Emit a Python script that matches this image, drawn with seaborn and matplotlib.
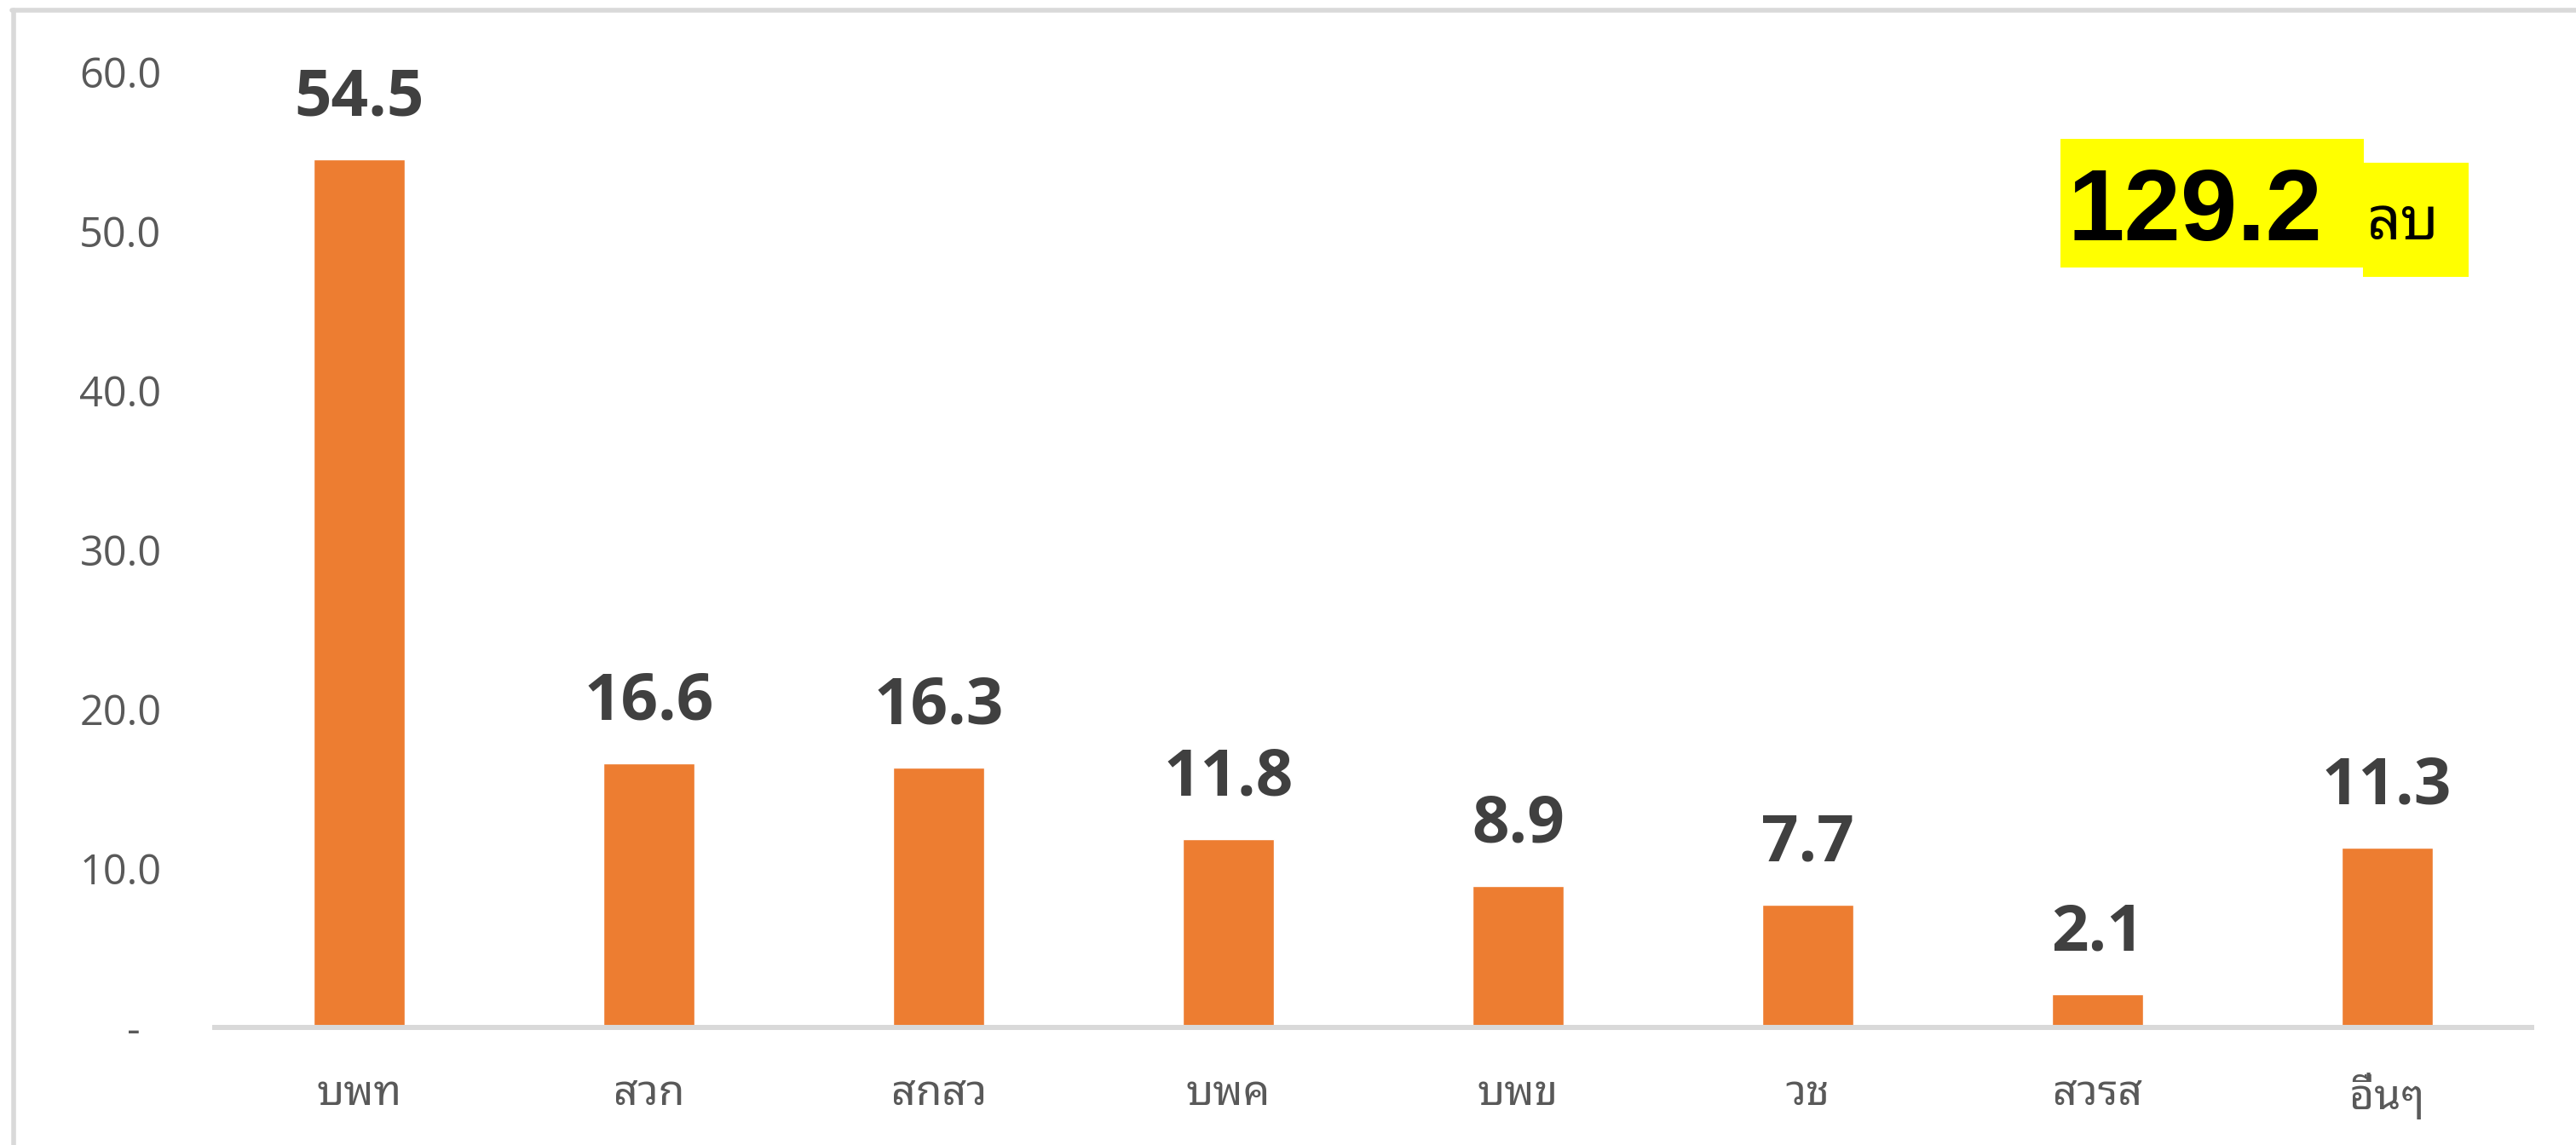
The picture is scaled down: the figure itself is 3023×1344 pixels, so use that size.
import numpy as np
import pandas as pd
import seaborn as sns
import matplotlib
matplotlib.use("Agg")
from matplotlib import pyplot as plt
from matplotlib import font_manager
from matplotlib.ft2font import FT2Font
from matplotlib.lines import Line2D
from matplotlib.patches import Rectangle

# data
categories = ["บพท", "สวก", "สกสว", "บพค", "บพข", "วช", "สวรส", "อื่นๆ"]
values = [54.5, 16.6, 16.3, 11.8, 8.9, 7.7, 2.1, 11.3]
ytick_values = [0, 10, 20, 30, 40, 50, 60]
ytick_labels = ["-  ", "10.0", "20.0", "30.0", "40.0", "50.0", "60.0"]
total_text = "129.2"
unit_text = "ลบ"


def find_thai_family():
    # pick an installed family that has Thai glyphs
    found = []
    for f in font_manager.fontManager.ttflist:
        try:
            if 0x0E1A in FT2Font(f.fname).get_charmap():
                found.append(f.name)
        except Exception:
            pass
    prefs = ["Tahoma", "Leelawadee", "Noto Sans Thai", "Loma", "Garuda",
             "Sarabun", "Tlwg Typo", "Norasi"]
    for p in prefs:
        for n in found:
            if p in n:
                return n
    return found[0] if found else "DejaVu Sans"


sns.set_theme(style="white")
thai = find_thai_family()
plt.rcParams['font.family'] = ['Open Sans', thai, 'DejaVu Sans']

W, H = 3023, 1344
fig = plt.figure(figsize=(W / 100, H / 100), dpi=100)
ax = fig.add_axes([252 / W, 1 - 1206 / H, (2971 - 252) / W, (1206 - 84) / H])

df = pd.DataFrame({"agency": categories, "budget": values})
sns.barplot(data=df, x="agency", y="budget", color="#ED7D31", saturation=1,
            width=0.315, ax=ax)

ax.set_ylim(0, 60)
ax.set_xlim(-0.5, len(categories) - 0.5)
ax.set_yticks(ytick_values)
ax.set_yticklabels(ytick_labels, fontsize=35, color="#595959",
                   family=['Open Sans', 'DejaVu Sans'])
ax.set_xticks(range(len(categories)))
ax.set_xticklabels(categories, fontsize=36, color="#595959", fontweight="bold",
                   family=[thai, 'DejaVu Sans'])
ax.tick_params(axis="y", length=0, pad=45)
ax.tick_params(axis="x", length=0, pad=38)
ax.set_xlabel("")
ax.set_ylabel("")
for s in ["top", "right", "left"]:
    ax.spines[s].set_visible(False)
ax.spines["bottom"].set_color("#D9D9D9")
ax.spines["bottom"].set_linewidth(4.3)
ax.grid(False)

for i, v in enumerate(values):
    ax.annotate(f"{v:.1f}", xy=(i, v), xytext=(0, 37), textcoords="offset points",
                ha="center", va="baseline", fontsize=55, fontweight="bold",
                color="#404040", family=['Open Sans', 'DejaVu Sans'])

# outer chart frame (only top and left visible in the crop)
fig.add_artist(Line2D([14 / W, 1], [1 - 12 / H, 1 - 12 / H], color="#D9D9D9",
                      lw=4, transform=fig.transFigure))
fig.add_artist(Line2D([16 / W, 16 / W], [0, 1 - 12 / H], color="#D9D9D9",
                      lw=4, transform=fig.transFigure))

# total box
fig.add_artist(Rectangle((2418 / W, 1 - 314 / H), (2774 - 2418) / W, (314 - 163) / H,
                         facecolor="#FFFF00", edgecolor="none",
                         transform=fig.transFigure))
fig.add_artist(Rectangle((2773 / W, 1 - 325 / H), (2897 - 2773) / W, (325 - 191) / H,
                         facecolor="#FFFF00", edgecolor="none",
                         transform=fig.transFigure))
fig.text(2426 / W, 1 - 282 / H, total_text, fontsize=86, fontweight="bold",
         color="black", ha="left", va="baseline",
         family=['Liberation Sans', 'DejaVu Sans'])
fig.text(2778 / W, 1 - 281 / H, unit_text, fontsize=50, color="black",
         ha="left", va="baseline", family=[thai, 'DejaVu Sans'])

fig.savefig("out.png", dpi=100, facecolor="white")
